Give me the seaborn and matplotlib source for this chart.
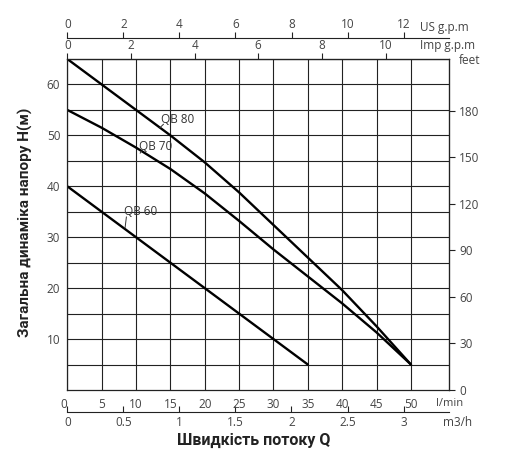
import matplotlib
matplotlib.use('Agg')
import matplotlib.pyplot as plt
import seaborn as sns
import numpy as np
import pandas as pd

sns.set_style('white')
plt.rcParams['font.family'] = ['Open Sans', 'DejaVu Sans']

# flow in l/min and head in metres
flow_80 = [0, 5, 10, 15, 20, 25, 30, 35, 40, 45, 50]
head_80 = [65, 60, 55, 50, 44.7, 38.8, 32.4, 26, 19.6, 12.5, 5]
flow_70 = [0, 5, 10, 15, 20, 25, 30, 35, 40, 45, 50]
head_70 = [55, 51.5, 47.6, 43.4, 38.6, 33.2, 27.6, 22.3, 17, 11.3, 5]
flow_60 = [0, 35]
head_60 = [40, 5]

models = ['QB 80', 'QB 70', 'QB 60']
# label text spot (l/min, m) and the point on the curve it points to
label_xy = [(13.6, 53.2), (10.4, 47.9), (8.2, 35.0)]
leader_xy = [(13.4, 51.4), (10.6, 46.5), (8.4, 31.8)]

lmin_ticks = list(range(0, 51, 5))
m3h_ticks = [0, 0.5, 1, 1.5, 2, 2.5, 3]
m3h_labels = ['0', '0.5', '1', '1.5', '2', '2.5', '3']
us_ticks = [0, 2, 4, 6, 8, 10, 12]
imp_ticks = [0, 2, 4, 6, 8, 10]
feet_ticks = [0, 30, 60, 90, 120, 150, 180]
head_ticks = [10, 20, 30, 40, 50, 60]

# scale factors as drawn on the chart (l/min per unit)
US_F = 4.078
IMP_F = 4.63
M3H_F = 16.31
FT_F = 0.3048

df = pd.concat([
    pd.DataFrame({'flow': flow_80, 'head': head_80, 'model': 'QB 80'}),
    pd.DataFrame({'flow': flow_70, 'head': head_70, 'model': 'QB 70'}),
    pd.DataFrame({'flow': flow_60, 'head': head_60, 'model': 'QB 60'}),
])

W, H = 512, 472
fig = plt.figure(figsize=(W / 100, H / 100), dpi=100)
ax = fig.add_axes([67.3 / W, 1 - 390 / H, 382 / W, 331 / H])

tick_col = '#444444'
grid_col = '#222222'

sns.lineplot(data=df, x='flow', y='head', units='model', estimator=None,
             color='black', lw=1.7, ax=ax, legend=False)

ax.set_xlim(0, 55.58)
ax.set_ylim(0, 65)

ax.set_xticks(lmin_ticks)
ax.set_xticklabels([str(t) for t in lmin_ticks])
ax.set_yticks(head_ticks)
ax.set_yticks(np.arange(5, 66, 10), minor=True)
ax.set_xticks([], minor=True)
ax.tick_params(axis='x', length=0, pad=6, labelsize=8.5, labelcolor=tick_col)
ax.tick_params(axis='y', which='major', length=3, width=0.8, color=grid_col,
               pad=2, labelsize=8.5, labelcolor=tick_col)
ax.tick_params(axis='y', which='minor', length=0)
ax.grid(True, which='both', color=grid_col, lw=0.8)
ax.set_axisbelow(True)
for s in ax.spines.values():
    s.set_color(grid_col)
    s.set_linewidth(0.9)
ax.set_xlabel('')
ax.set_ylabel('')
ax.get_xticklabels()[0].set_ha('right')

# top scales
imp = ax.secondary_xaxis('top', functions=(lambda x: x / IMP_F, lambda g: g * IMP_F))
imp.set_xticks(imp_ticks)
imp.tick_params(length=4, width=0.8, color=grid_col, pad=1, labelsize=8.5, labelcolor=tick_col)
imp.spines['top'].set_color(grid_col)

us = ax.secondary_xaxis(1.0643, functions=(lambda x: x / US_F, lambda g: g * US_F))
us.set_xticks(us_ticks)
us.tick_params(axis='x', top=True, bottom=False, labeltop=True, labelbottom=False,
               length=4, width=0.8, color=grid_col, pad=1, labelsize=8.5, labelcolor=tick_col)
us.spines['bottom'].set_color(grid_col)
us.spines['top'].set_color(grid_col)

# bottom m3/h scale
m3 = ax.secondary_xaxis(-0.0656, functions=(lambda x: x / M3H_F, lambda q: q * M3H_F))
m3.set_xticks(m3h_ticks)
m3.set_xticklabels(m3h_labels)
m3.tick_params(direction='in', length=4, width=0.8, color=grid_col, pad=3,
               labelsize=8.5, labelcolor=tick_col)
m3.spines['bottom'].set_color(grid_col)

# right feet scale
ft = ax.secondary_yaxis('right', functions=(lambda m: m / FT_F, lambda f: f * FT_F))
ft.set_yticks(feet_ticks)
ft.tick_params(length=4, width=0.8, color=grid_col, pad=3, labelsize=8.5, labelcolor=tick_col)
ft.spines['right'].set_color(grid_col)

# curve names
for name, (tx, ty), (lx, ly) in zip(models, label_xy, leader_xy):
    ax.text(tx, ty, name, fontsize=8.5, color='#333333', ha='left', va='center')
    ax.annotate('', xy=(lx, ly), xytext=(tx + 0.4, ty - 1.0),
                arrowprops=dict(arrowstyle='-', color='#333333', lw=0.7,
                                shrinkA=0, shrinkB=0))

def ftext(px, py, s, size=8.5, **kw):
    fig.text(px / W, 1 - py / H, s, fontsize=size, color=tick_col, va='center', **kw)

ftext(420, 28, 'US g.p.m')
ftext(420, 45, 'Imp g.p.m')
ftext(459, 61, 'feet')
ftext(436, 403, 'l/min', size=8)
ftext(443, 422, 'm3/h')

fig.text(254 / W, 1 - 440 / H, 'Швидкість потоку Q', fontsize=11.5, fontweight='bold',
         family=['Roboto', 'DejaVu Sans'], color='#222222', ha='center', va='center')
fig.text(25 / W, 1 - 222 / H, 'Загальна динаміка напору H(м)', fontsize=11,
         fontweight='bold', family=['Roboto', 'DejaVu Sans'], color='#222222',
         rotation=90, ha='center', va='center')

fig.savefig('out.png', dpi=100)
